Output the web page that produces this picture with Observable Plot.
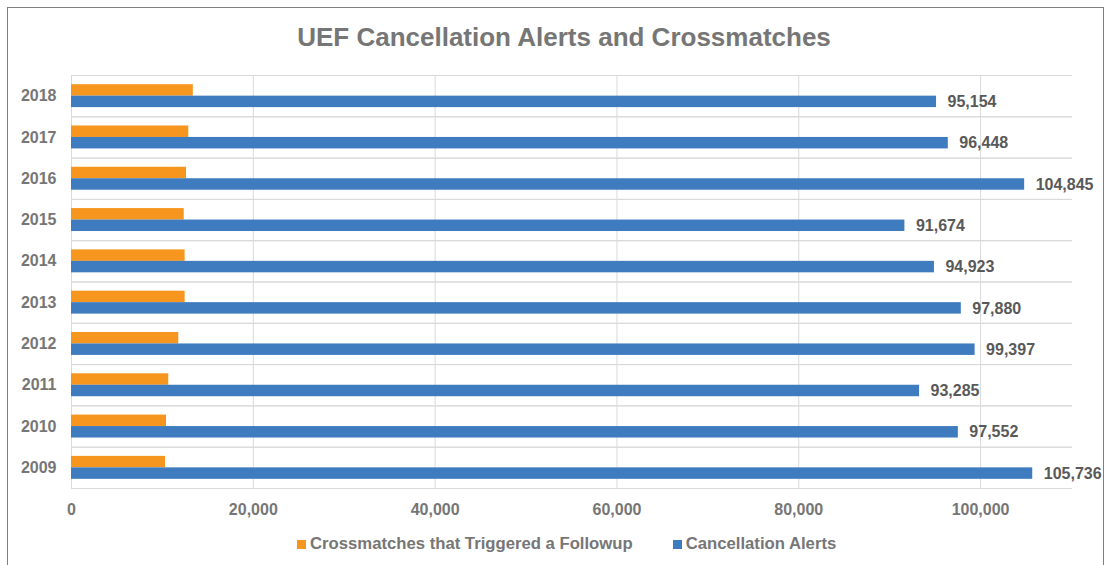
<!DOCTYPE html>
<html>
<head>
<meta charset="utf-8">
<script src="https://cdn.jsdelivr.net/npm/d3@7"></script>
<script src="https://cdn.jsdelivr.net/npm/@observablehq/plot@0.6"></script>
<style>
  html, body { margin: 0; padding: 0; background: #fff; overflow: hidden; }
  body { width: 1110px; height: 565px; position: relative; font-family: "Liberation Sans", Arial, sans-serif; }
  #frame { position: absolute; left: 7px; top: 7px; width: 1097px; height: 600px; border: 1.5px solid #7f7f7f; box-sizing: border-box; }
  #title { position: absolute; left: 0; top: 22px; width: 1128px; text-align: center; font-size: 26px; line-height: 30px; font-weight: bold; color: #767676; }
  #chart { position: absolute; left: 0; top: 0; }
  #legend { position: absolute; left: 297px; top: 534px; display: flex; align-items: center; font-size: 16.7px; line-height: 20px; font-weight: bold; color: #767676; }
  .item { display: flex; align-items: center; }
  .sw { width: 9px; height: 9px; margin-right: 4px; }
</style>
</head>
<body>
<div id="frame"></div>
<div id="chart"></div>
<div id="title">UEF Cancellation Alerts and Crossmatches</div>
<div id="legend"></div>
<script>
const years = [2009, 2010, 2011, 2012, 2013, 2014, 2015, 2016, 2017, 2018];
const crossmatches = [10340, 10450, 10700, 11800, 12500, 12500, 12400, 12650, 12900, 13400];
const alerts = [105736, 97552, 93285, 99397, 97880, 94923, 91674, 104845, 96448, 95154];
const seriesNames = ["Crossmatches that Triggered a Followup", "Cancellation Alerts"];
const seriesColors = ["#F7961E", "#3F7BBF"];
const xTicks = [0, 20000, 40000, 60000, 80000, 100000];

const data = years.flatMap((yr, i) => [
  {year: String(yr), series: seriesNames[0], value: crossmatches[i]},
  {year: String(yr), series: seriesNames[1], value: alerts[i]}
]);
const fmt = d3.format(",");

const chart = Plot.plot({
  width: 1110,
  height: 530,
  marginLeft: 71,
  marginRight: 39,
  marginTop: 75,
  marginBottom: 42,
  style: {fontFamily: "'Liberation Sans', Arial, sans-serif", fontSize: "16px", fontWeight: "bold", color: "#767676", background: "transparent"},
  x: {domain: [0, 110000], ticks: xTicks, tickFormat: fmt, tickSize: 0, tickPadding: 15, label: null},
  fy: {domain: years.map(String).reverse(), padding: 0, round: false, label: null, tickSize: 0, tickPadding: 15, axis: "left"},
  y: {domain: seriesNames, axis: null, paddingInner: 0, paddingOuter: 0.8, round: false},
  color: {domain: seriesNames, range: seriesColors},
  marks: [
    Plot.ruleX(xTicks, {stroke: "#d9d9d9", strokeWidth: 1}),
    Plot.frame({anchor: "top", stroke: "#d9d9d9"}),
    Plot.frame({anchor: "bottom", stroke: "#d9d9d9"}),
    Plot.barX(data, {fy: "year", y: "series", x: "value", fill: "series"}),
    Plot.text(data.filter(d => d.series === seriesNames[1]), {
      fy: "year", y: "series", x: "value", text: d => fmt(d.value),
      dx: 11, textAnchor: "start", fill: "#595959", fontWeight: "bold", fontSize: 16
    })
  ]
});
document.getElementById("chart").appendChild(chart);

const legend = document.getElementById("legend");
seriesNames.forEach((name, i) => {
  const item = document.createElement("div");
  item.className = "item";
  if (i > 0) item.style.marginLeft = "40px";
  const sw = document.createElement("span");
  sw.className = "sw";
  sw.style.background = seriesColors[i];
  const label = document.createElement("span");
  label.textContent = name;
  item.appendChild(sw);
  item.appendChild(label);
  legend.appendChild(item);
});
</script>
</body>
</html>
